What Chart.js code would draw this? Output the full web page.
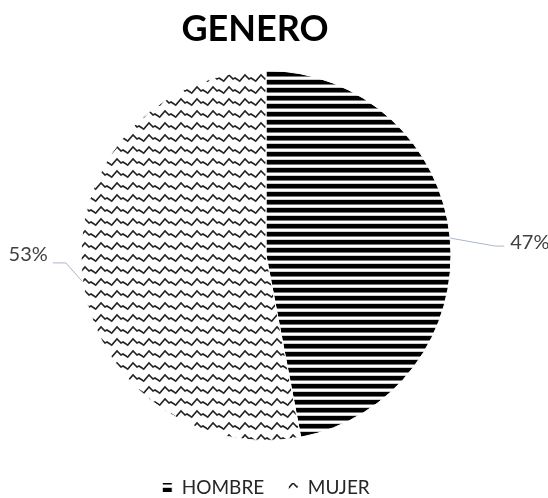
<!DOCTYPE html>
<html><head><meta charset="utf-8">
<script src="https://cdn.jsdelivr.net/npm/chart.js@4"></script>
<style>html,body{margin:0;padding:0;background:#fff}#wrap{width:548px;height:498px}</style>
</head><body><div id="wrap"><canvas id="c" width="548" height="498"></canvas></div>
<script>
const categories = ['HOMBRE', 'MUJER'];
const values = [47, 53];
const labelsPct = ['47%', '53%'];
const chartTitle = 'GENERO';

function stripePattern() {
  const c = document.createElement('canvas'); c.width = 8; c.height = 8;
  const x = c.getContext('2d');
  x.fillStyle = '#fff'; x.fillRect(0,0,8,8);
  x.fillStyle = '#000'; x.fillRect(0,0,8,4);
  x.fillStyle = '#777'; x.fillRect(0,4,8,1);
  x.fillStyle = '#ccc'; x.fillRect(0,7,8,1);
  return x.createPattern(c, 'repeat');
}
function wavePattern() {
  const c = document.createElement('canvas'); c.width = 16; c.height = 12;
  const x = c.getContext('2d');
  x.fillStyle = '#fff'; x.fillRect(0,0,16,12);
  x.strokeStyle = '#222'; x.lineWidth = 1.6;
  x.beginPath(); x.moveTo(-1,10); x.lineTo(5,3); x.lineTo(9,7); x.lineTo(11,6); x.lineTo(17,10); x.stroke();
  return x.createPattern(c, 'repeat');
}

const leaderPlugin = {
  id: 'leaders',
  afterLayout(chart) {
    if (chart.titleBlock) chart.titleBlock.right -= 22;
  },
  afterDatasetsDraw(chart) {
    const ctx = chart.ctx;
    const meta = chart.getDatasetMeta(0);
    meta.data.forEach((arc, i) => {
      const p = arc.getProps(['x','y','startAngle','endAngle','outerRadius'], true);
      const mid = (p.startAngle + p.endAngle) / 2;
      const ex = p.x + Math.cos(mid) * p.outerRadius;
      const ey = p.y + Math.sin(mid) * p.outerRadius;
      const right = Math.cos(mid) >= 0;
      ctx.save();
      ctx.strokeStyle = '#a9b7c9'; ctx.lineWidth = 1;
      ctx.beginPath();
      let tx, ty;
      if (right) {
        ctx.moveTo(ex, ey); ctx.lineTo(ex + 45, ey + 8); ctx.lineTo(ex + 54, ey + 8);
        tx = ex + 60; ty = ey + 4;
      } else {
        ctx.moveTo(ex, ey + 8); ctx.lineTo(ex - 16, ey - 10); ctx.lineTo(ex - 29, ey - 10);
        tx = ex - 34; ty = ey - 18;
      }
      ctx.stroke();
      ctx.fillStyle = '#404040';
      ctx.font = '20px Lato';
      ctx.textBaseline = 'middle';
      ctx.textAlign = right ? 'left' : 'right';
      ctx.fillText(labelsPct[i], tx, ty);
      ctx.restore();
    });
  }
};

new Chart(document.getElementById('c'), {
  type: 'pie',
  data: {
    labels: categories,
    datasets: [{
      data: values,
      backgroundColor: [stripePattern(), wavePattern()],
      borderColor: '#fff',
      borderWidth: 1
    }]
  },
  options: {
    responsive: false,
    animation: false,
    layout: { padding: { left: 0, right: 16, top: 0, bottom: -9 } },
    plugins: {
      title: { display: true, text: chartTitle, color: '#000',
        font: { family: 'Lato', size: 36, weight: 'bold', lineHeight: 1.2 },
        padding: { top: 8, bottom: 18.8 } },
      legend: { position: 'bottom',
        title: { display: true, text: '', font: { size: 1, lineHeight: 1 }, padding: { top: 12, bottom: 0 } },
        labels: { color: '#262626', font: { family: 'Lato', size: 19 },
          boxWidth: 10, boxHeight: 10, padding: 24 } },
      tooltip: { enabled: false }
    }
  },
  plugins: [leaderPlugin]
});
</script></body></html>
